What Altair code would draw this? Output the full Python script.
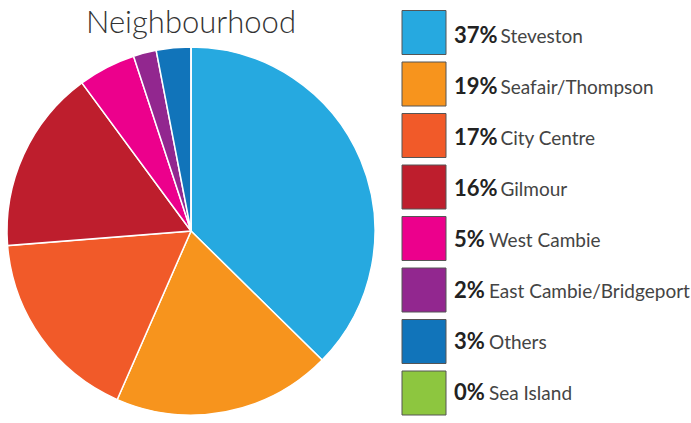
import altair as alt
import pandas as pd

names = ["Steveston", "Seafair/Thompson", "City Centre", "Gilmour", "West Cambie",
         "East Cambie/Bridgeport", "Others", "Sea Island"]
values = [37, 19, 17, 16, 5, 2, 3, 0]
pct_labels = ["37%", "19%", "17%", "16%", "5%", "2%", "3%", "0%"]
colors = ["#26A9E0", "#F7941D", "#F15A29", "#BE1E2D", "#EC008C", "#92278F", "#1174BA", "#8DC63F"]
title_text = ["Neighbourhood"]

df = pd.DataFrame({"name": names, "value": values, "pct": pct_labels, "idx": list(range(len(names)))})

color = alt.Color("name:N", scale=alt.Scale(domain=names, range=colors), legend=None)

base = alt.Chart(df)

pie = base.mark_arc(stroke="white", strokeWidth=1.5, radius=184).encode(
    theta=alt.Theta("value:Q", stack=True),
    order=alt.Order("idx:Q"),
    color=color,
    x=alt.value(191),
    y=alt.value(231),
)

ysq = alt.Y("name:N", scale=alt.Scale(domain=names, range=[32.5, 393], type="point", padding=0), axis=None)
ytx = alt.Y("name:N", scale=alt.Scale(domain=names, range=[43, 400], type="point", padding=0), axis=None)

squares = base.mark_square(size=44 * 44, stroke="#555555", strokeWidth=1, opacity=1).encode(
    x=alt.value(424),
    y=ysq,
    color=color,
)

pct_text = base.mark_text(align="left", baseline="alphabetic", font="Lato", fontWeight="bold",
                          fontSize=22, color="#222222").encode(
    x=alt.value(454),
    y=ytx,
    text="pct:N",
)

name_text = base.transform_calculate(
    nx="454 + 11.5 * length(datum.pct) + 12"
).mark_text(align="left", baseline="alphabetic", font="Lato", fontSize=19, color="#444444").encode(
    x=alt.X("nx:Q", scale=None),
    y=ytx,
    text="name:N",
)

title = alt.Chart(pd.DataFrame({"t": title_text})).mark_text(
    align="center", baseline="alphabetic", font="Lato", fontWeight=300, fontSize=31, color="#333333"
).encode(x=alt.value(191), y=alt.value(33), text="t:N")

chart = alt.layer(pie, squares, pct_text, name_text, title).properties(
    width=691, height=423, padding=0, autosize=alt.AutoSizeParams(type="none")
).configure_view(stroke=None).resolve_scale(y="independent")

chart.save("out.html", embed_options={"renderer": "svg", "actions": False})
